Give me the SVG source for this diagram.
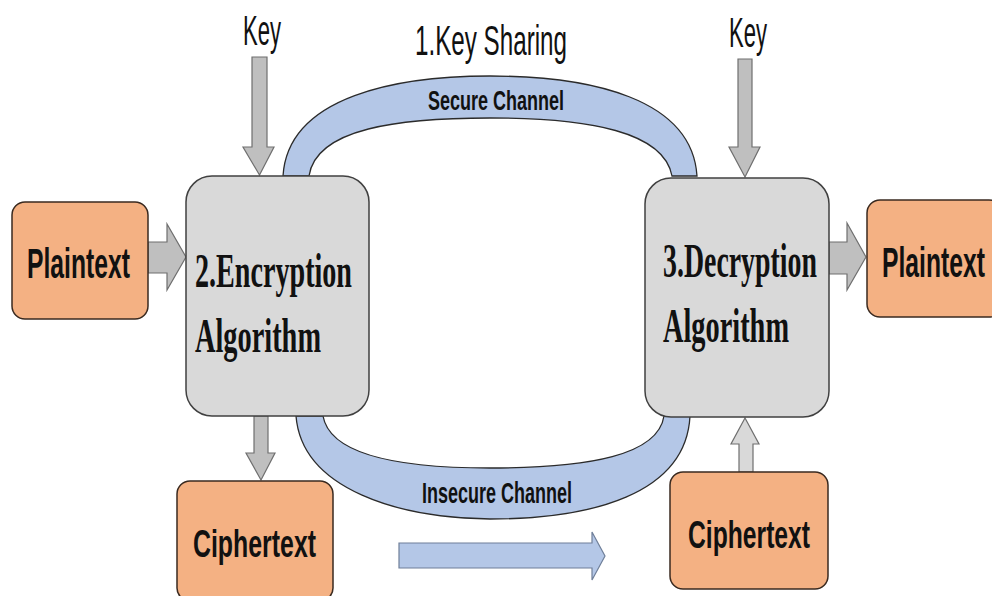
<svg xmlns="http://www.w3.org/2000/svg" width="992" height="596" viewBox="0 0 992 596">
<style>
.orange{fill:#F4B183;stroke:#3a2a20;stroke-width:1.5}
.gray{fill:#D9D9D9;stroke:#404040;stroke-width:1.5}
.garrow{fill:#BFBFBF;stroke:#6f6f6f;stroke-width:1.2}
.larrow{fill:#D9D9D9;stroke:#6f6f6f;stroke-width:1.2}
.band{fill:#B4C7E7;stroke:#2b2b2b;stroke-width:1.3}
.barrow{fill:#B4C7E7;stroke:#6f7f99;stroke-width:1.2}
.lbl{font-family:"Liberation Sans",Arial,sans-serif;font-weight:bold;fill:#111;text-anchor:start}
.ttl{font-family:"Liberation Serif","Times New Roman",serif;font-weight:bold;fill:#111}
.key{font-family:"Liberation Sans",Arial,sans-serif;fill:#111}
</style>
<g id="connectors">
  <path id="secure-channel" class="band" d="M283,176 C288,95 400,76 490,76 C590,76 692,98 697,176 L672,176 C664,132 590,118 490,118 C400,118 316,128 309,176 Z"/>
  <path id="insecure-channel" class="band" d="M296,416 C302,490 400,518 490,519 C590,519 686,495 690,416 L664,416 C658,455 590,468 490,468 C400,468 330,455 323,416 Z"/>
  <path id="key-left" class="garrow" d="M252,57 L267,57 L267,147 L274,147 L259.5,175 L243,147 L252,147 Z"/>
  <path id="key-right" class="garrow" d="M738,59 L752,59 L752,147 L760,147 L745,177 L729,147 L738,147 Z"/>
  <path id="pt-to-enc" class="garrow" d="M148,242 L167,242 L167,224 L186,257 L167,290 L167,273 L148,273 Z"/>
  <path id="dec-to-pt" class="garrow" d="M829,242 L847,242 L847,223 L866,257 L847,290 L847,274 L829,274 Z"/>
  <path id="enc-to-ct" class="garrow" d="M254,416 L268,416 L268,453 L275,453 L261,480 L246,453 L254,453 Z"/>
  <path id="ct-to-dec" class="larrow" d="M739,472 L753,472 L753,444 L759,444 L745,418 L731,444 L739,444 Z"/>
  <path id="flow-arrow" class="barrow" d="M399,543 L592,543 L592,532 L605,556 L592,580 L592,568 L399,568 Z"/>
</g>
<g id="plaintext-left">
  <rect class="orange" x="12" y="202" width="136" height="117" rx="13"/>
  <text class="lbl" x="27" y="278" font-size="42" textLength="103" lengthAdjust="spacingAndGlyphs">Plaintext</text>
</g>
<g id="encryption">
  <rect class="gray" x="186" y="176" width="183" height="240" rx="26"/>
  <text class="ttl" x="195" y="287" font-size="48" textLength="157" lengthAdjust="spacingAndGlyphs">2.Encryption</text>
  <text class="ttl" x="195" y="352" font-size="48" textLength="126" lengthAdjust="spacingAndGlyphs">Algorithm</text>
</g>
<g id="decryption">
  <rect class="gray" x="645" y="178" width="184" height="239" rx="26"/>
  <text class="ttl" x="663" y="277" font-size="48" textLength="154" lengthAdjust="spacingAndGlyphs">3.Decryption</text>
  <text class="ttl" x="663" y="342" font-size="48" textLength="126" lengthAdjust="spacingAndGlyphs">Algorithm</text>
</g>
<g id="plaintext-right">
  <rect class="orange" x="867" y="200" width="135" height="117" rx="13"/>
  <text class="lbl" x="882" y="277" font-size="42" textLength="103" lengthAdjust="spacingAndGlyphs">Plaintext</text>
</g>
<g id="ciphertext-left">
  <rect class="orange" x="177" y="481" width="156" height="120" rx="13"/>
  <text class="lbl" x="193" y="557" font-size="38" textLength="123" lengthAdjust="spacingAndGlyphs">Ciphertext</text>
</g>
<g id="ciphertext-right">
  <rect class="orange" x="670" y="472" width="158" height="117" rx="13"/>
  <text class="lbl" x="688" y="548" font-size="38" textLength="122" lengthAdjust="spacingAndGlyphs">Ciphertext</text>
</g>
<g id="labels">
  <text class="key" x="243" y="45" font-size="42" textLength="38" lengthAdjust="spacingAndGlyphs">Key</text>
  <text class="key" x="729" y="47" font-size="42" textLength="38" lengthAdjust="spacingAndGlyphs">Key</text>
  <text class="key" x="415" y="55" font-size="42" textLength="152" lengthAdjust="spacingAndGlyphs">1.Key Sharing</text>
  <text class="lbl" x="428" y="110" font-size="28" textLength="136" lengthAdjust="spacingAndGlyphs">Secure Channel</text>
  <text class="lbl" x="422" y="503" font-size="29" textLength="150" lengthAdjust="spacingAndGlyphs">Insecure Channel</text>
</g>
</svg>
